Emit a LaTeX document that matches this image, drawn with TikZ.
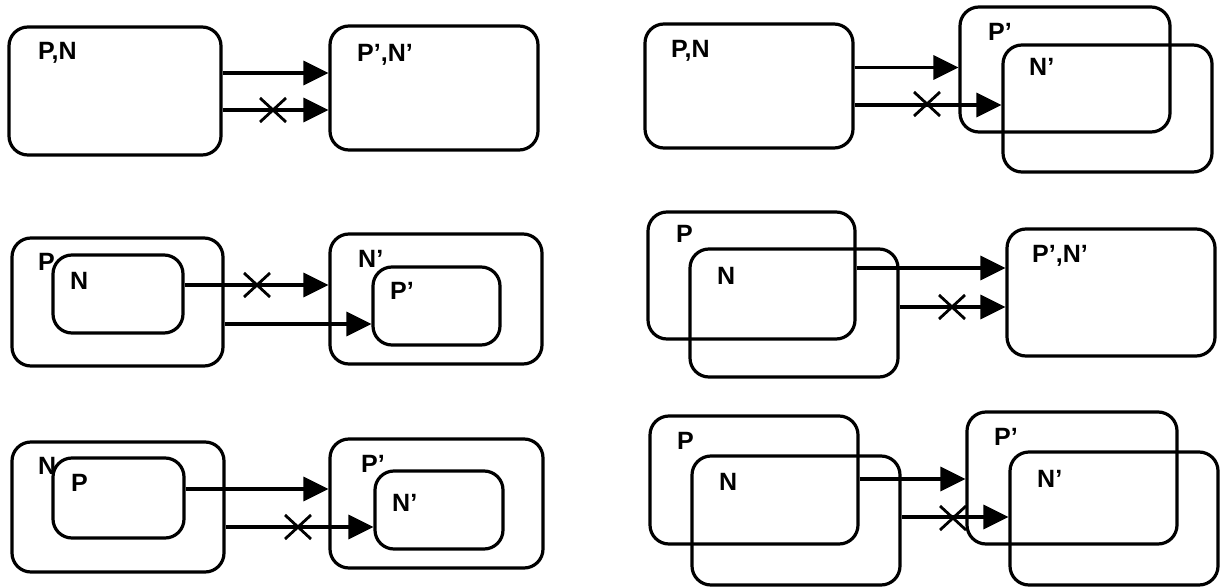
\documentclass[tikz,border=0pt]{standalone}
\usepackage{fontspec}
\setmainfont{Liberation Sans}
\usetikzlibrary{arrows.meta}
\newcommand\blocked[1]{%
\draw[line width=2.8pt] (#1) ++(-13,-12) -- ++(26,24) ++(0,-24) -- ++(-26,24);
}

\begin{document}
\begin{tikzpicture}[x=1pt,y=-1pt,
    set/.style={draw, line width=3.2pt, rounded corners=19pt, inner sep=0pt},
    tag/.style={anchor=base west, inner sep=0pt, font=\fontsize{25}{25}\selectfont\bfseries},
    arrow/.style={line width=3.2pt, -{Triangle[length=25pt,width=24pt]}}]

	\useasboundingbox (0,0) rectangle (1225,588);

	%% left column
	% same sets on both sides
	\node[set, minimum width=212pt, minimum height=128pt] (pnA) at (115,91) {};
	\node[set, minimum width=208pt, minimum height=124pt] (pnB) at (434,88) {};
	\node[tag] (tA) at (38,60) {P,N};
	\node[tag] (tB) at (357,62) {P',N'};
	\draw[arrow] (pnA.east |- 0,73) -- (pnB.west |- 0,73);
	\draw[arrow] (pnA.east |- 0,110) -- (pnB.west |- 0,110);
	\blocked{273,110}

	% N inside P, P' inside N'
	\node[set, minimum width=211pt, minimum height=128pt] (pOut) at (117.5,302) {};
	\node[set, minimum width=130pt, minimum height=78pt] (nIn) at (118,294) {};
	\node[set, minimum width=212pt, minimum height=130pt] (nOut) at (436,299) {};
	\node[set, minimum width=127pt, minimum height=78pt] (pIn) at (436.5,306) {};
	\node[tag] (tpOut) at (38,270) {P};
	\node[tag] (tnIn) at (70,289) {N};
	\node[tag] (tnOut) at (358,267) {N'};
	\node[tag] (tpIn) at (390,299) {P'};
	\draw[arrow] (nIn.east |- 0,285) -- (nOut.west |- 0,285);
	\draw[arrow] (pOut.east |- 0,324) -- (pIn.west |- 0,324);
	\blocked{257,285}

	% P inside N, N' inside P'
	\node[set, minimum width=212pt, minimum height=130pt] (nOut2) at (118,507) {};
	\node[set, minimum width=131pt, minimum height=80pt] (pIn2) at (118.5,498) {};
	\node[set, minimum width=213pt, minimum height=129pt] (pOut2) at (436.5,503.5) {};
	\node[set, minimum width=128pt, minimum height=78pt] (nIn2) at (439,510) {};
	\node[tag] (tnOut2) at (38,474) {N};
	\node[tag] (tpIn2) at (71,491) {P};
	\node[tag] (tpOut2) at (361,472) {P'};
	\node[tag] (tnIn2) at (392,511) {N'};
	\draw[arrow] (pIn2.east |- 0,489) -- (pOut2.west |- 0,489);
	\draw[arrow] (nOut2.east |- 0,527) -- (nIn2.west |- 0,527);
	\blocked{298,527}

	%% right column
	% overlapping sets
	\node[set, minimum width=208pt, minimum height=124pt] (pnC) at (749,86) {};
	\node[set, minimum width=210pt, minimum height=125pt] (pD) at (1065,69.5) {};
	\node[set, minimum width=209pt, minimum height=127pt] (nD) at (1107.5,108.5) {};
	\node[tag] (tC) at (671,58) {P,N};
	\node[tag] (tpD) at (988,41) {P'};
	\node[tag] (tnD) at (1029,76) {N'};
	\draw[arrow] (pnC.east |- 0,67.5) -- (pD.west |- 0,67.5);
	\draw[arrow] (pnC.east |- 0,105) -- (nD.west |- 0,105);
	\blocked{927,104}

	\node[set, minimum width=207pt, minimum height=127pt] (pE) at (751.5,275.5) {};
	\node[set, minimum width=208pt, minimum height=128pt] (nE) at (794,313) {};
	\node[set, minimum width=208pt, minimum height=127pt] (pnF) at (1111,292.5) {};
	\node[tag] (tpE) at (676,242) {P};
	\node[tag] (tnE) at (717,284) {N};
	\node[tag] (tF) at (1032,262) {P',N'};
	\draw[arrow] (pE.east |- 0,268) -- (pnF.west |- 0,268);
	\draw[arrow] (nE.east |- 0,307) -- (pnF.west |- 0,307);
	\blocked{952,307}

	\node[set, minimum width=208pt, minimum height=128pt] (pG) at (754,480) {};
	\node[set, minimum width=208pt, minimum height=129pt] (nG) at (796,520.5) {};
	\node[set, minimum width=210pt, minimum height=132pt] (pH) at (1072,478) {};
	\node[set, minimum width=208pt, minimum height=133pt] (nH) at (1114,518.5) {};
	\node[tag] (tpG) at (677,449) {P};
	\node[tag] (tnG) at (719,490) {N};
	\node[tag] (tpH) at (994,445) {P'};
	\node[tag] (tnH) at (1037,487) {N'};
	\draw[arrow] (pG.east |- 0,479) -- (pH.west |- 0,479);
	\draw[arrow] (nG.east |- 0,517) -- (nH.west |- 0,517);
	\blocked{953,518}

\end{tikzpicture}
\end{document}
